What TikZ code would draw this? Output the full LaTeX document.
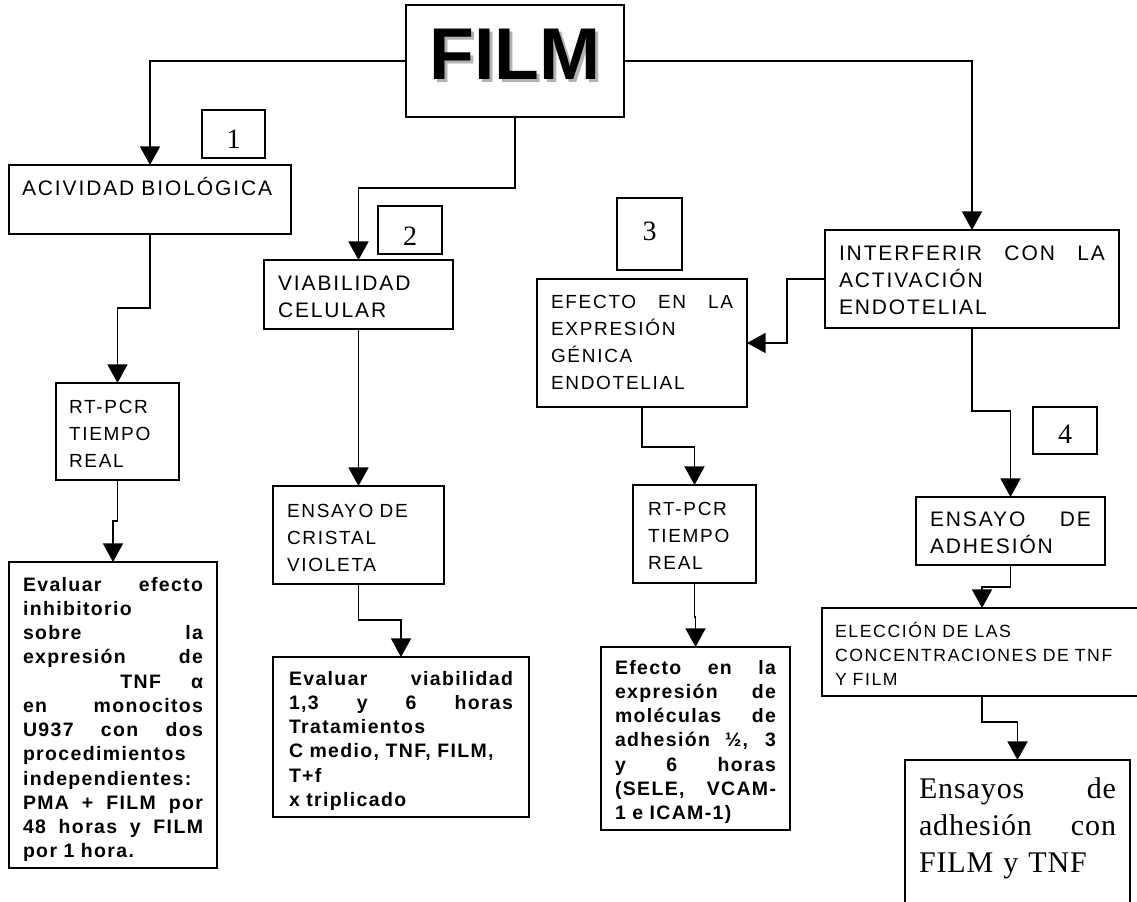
\documentclass[tikz,border=0pt]{standalone}
\usepackage{fontspec}
\setmainfont{Liberation Sans}
\newfontfamily\titulo{Liberation Sans}
\newfontfamily\capsfont{Liberation Sans}[LetterSpace=9]
\newfontfamily\negrita{Liberation Sans}[LetterSpace=7]
\newfontfamily\serifa{Liberation Serif}[LetterSpace=3]
\newfontfamily\cifra{Liberation Serif}
\usetikzlibrary{arrows.meta,positioning}
\newdimen\px \px=0.75pt
\newcommand{\jl}[1]{\makebox[\linewidth][s]{\spaceskip=\fontdimen2\font plus 1fil\relax#1}}
\tikzset{
  base/.style={draw, line width=1.4pt, anchor=north west, outer sep=0pt,
    inner ysep=0pt, align=left},
  % caja=width/pad/baseline/height, all in px
  caja/.code args={#1/#2/#3/#4}{%
    \pgfmathsetlengthmacro\cajaw{(#1-2*#2)*0.75}%
    \pgfmathsetlengthmacro\cajax{#2*0.75}%
    \pgfmathsetlengthmacro\cajab{#3*0.75}%
    \pgfmathsetlengthmacro\cajad{(#4-#3)*0.75}%
    \edef\cajatmp{\noexpand\pgfkeysalso{text width=\cajaw, inner xsep=\cajax,
      text height=\cajab, text depth=\cajad}}\cajatmp},
  grande/.style={font=\capsfont\fontsize{15.75}{20.25}\selectfont},
  chica/.style={font=\capsfont\fontsize{14.25}{20.25}\selectfont},
  menor/.style={font=\capsfont\fontsize{13.25}{18}\selectfont},
  negra/.style={font=\negrita\bfseries\fontsize{14.6}{18.2}\selectfont},
  numero/.style={base, align=center, font=\cifra\fontsize{21}{24}\selectfont},
  flecha/.style={-{Triangle[width=15pt,length=14pt]}, line width=1.4pt},
}
\begin{document}
\begin{tikzpicture}[x=0.75pt,y=-0.75pt]
  \useasboundingbox (0,0) rectangle (1137,901);
  % title
  \node[base, caja=218/0/74/112, align=center,
    font=\titulo\bfseries\fontsize{55}{60}\selectfont] (film) at (406,5)
    {\makebox[0pt][l]{\hspace{3\px}\raisebox{-3\px}{\color{black!30}FILM}}FILM};
  % numbers
  \node[numero, caja=63/0/38/48] (n1) at (202,110) {1};
  \node[numero, caja=64/0/39/48] (n2) at (378,206) {2};
  \node[numero, caja=65/0/42/72] (n3) at (617,198) {3};
  \node[numero, caja=64/0/36/47] (n4) at (1033,407) {4};
  % branch 1
  \node[base, grande, caja=282/13/30/69] (act) at (9,165) {ACIVIDAD~BIOLÓGICA};
  \node[base, chica, caja=123/13/30/97] (rt1) at (56,383) {RT-PCR\\TIEMPO\\REAL};
  \node[base, negra, caja=208/14/29/306] (ev1) at (9,562)
    {\jl{Evaluar efecto}\\inhibitorio\\\jl{sobre la}\\\jl{expresión de}\\
     \makebox[\linewidth][r]{TNF\hspace{30\px}α}\\\jl{en monocitos}\\
     \jl{U937 con dos}\\procedimientos\\independientes:\\\jl{PMA + FILM por}\\
     \jl{48 horas y FILM}\\por 1 hora.};
  % branch 2
  \node[base, grande, caja=189/14/30/69] (via) at (264,260) {VIABILIDAD\\CELULAR};
  \node[base, chica, caja=171/14/31/98] (cris) at (273,486) {ENSAYO DE\\CRISTAL\\VIOLETA};
  \node[base, negra, caja=256/16/28/160] (evv) at (273,657)
    {\jl{Evaluar viabilidad}\\\jl{1,3 y 6 horas}\\Tratamientos\\
     C medio, TNF, FILM,\\T+f\\x triplicado};
  % branch 3
  \node[base, chica, caja=210/14/29/128] (efe) at (537,279)
    {\jl{EFECTO EN LA}\\EXPRESIÓN\\GÉNICA\\ENDOTELIAL};
  \node[base, chica, caja=123/15/30/98] (rt2) at (633,485) {RT-PCR\\TIEMPO\\REAL};
  \node[base, negra, caja=189/14/27/183] (efm) at (601,647)
    {\jl{Efecto en la}\\\jl{expresión de}\\\jl{moléculas de}\\\jl{adhesión ½, 3}\\
     \jl{y 6 horas}\\\jl{(SELE, VCAM-}\\1 e ICAM-1)};
  % branch 4
  \node[base, grande, caja=294/14/30/98] (inter) at (825,230)
    {\jl{INTERFERIR CON LA}\\ACTIVACIÓN\\ENDOTELIAL};
  \node[base, grande, caja=189/14/29/68] (adh) at (916,497) {\jl{ENSAYO DE}\\ADHESIÓN};
  \node[base, menor, caja=320/13/29/88] (ele) at (822,608)
    {ELECCIÓN DE LAS\\CONCENTRACIONES DE TNF\\Y FILM};
  \node[base, caja=225/14/38/160, font=\serifa\fontsize{22.5}{27.75}\selectfont]
    (ens) at (905,760) {\jl{Ensayos de}\\\jl{adhesión con}\\FILM y TNF};
  % connectors
  \draw[flecha] (film.west) -| (act.north);
  \draw[flecha] (film.east) -| (inter.north);
  \draw[flecha] (film.south) -- ++(0,71) -| (via.north);
  \draw[flecha] (act.south) -- ++(0,74) -| (rt1.north);
  \draw[flecha] (rt1.south) -- ++(0,41) -| (ev1.north);
  \draw[flecha] (via.south) -- (cris.north);
  \draw[flecha] (cris.south) -- ++(0,36) -| (evv.north);
  \draw[flecha] (inter.west) -- ++(-38,0) |- (efe.east);
  \draw[flecha] (efe.south) -- ++(0,40) -| (rt2.north);
  \draw[flecha] (rt2.south) -- ++(0,34) -| (efm.north);
  \draw[flecha] (inter.south) -- ++(0,83) -| (adh.north);
  \draw[flecha] (adh.south) -- ++(0,22) -| (ele.north);
  \draw[flecha] (ele.south) -- ++(0,26) -| (ens.north);
\end{tikzpicture}
\end{document}
